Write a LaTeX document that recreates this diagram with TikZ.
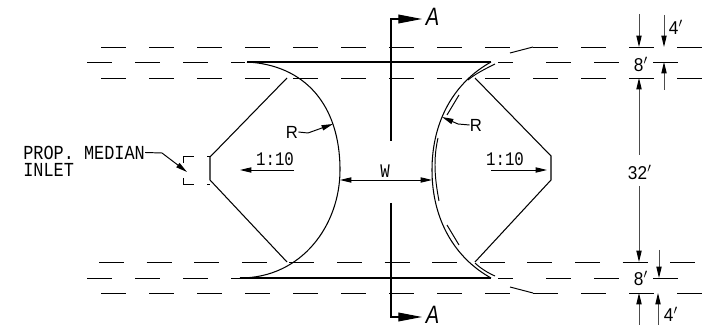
\documentclass[tikz,border=0pt]{standalone}
\usepackage{fontspec}
\usepackage{graphicx}
\setmainfont{Liberation Mono}
\newfontfamily\lblsans{Liberation Sans}[ItalicFont=* Italic]
\newcommand{\tallmono}[1]{\scalebox{1}[1.18]{#1}}
\newcommand{\narrowmono}[1]{\scalebox{0.78}[0.95]{\fontsize{11.5}{12}\selectfont #1}}
\newcommand{\dimtext}[1]{\scalebox{1}[1.08]{\fontsize{9.8}{10}\selectfont\lblsans #1}}
\newcommand{\radtext}[1]{\scalebox{0.95}[1]{\fontsize{10}{10}\selectfont\lblsans #1}}
\newcommand{\cuttext}[1]{\scalebox{0.88}[1.1]{\fontsize{13}{14}\selectfont\lblsans\itshape #1}}
\usetikzlibrary{arrows.meta}
\tikzset{
	roadline/.style={line width=0.55pt},
	solidline/.style={line width=0.6pt},
	dimline/.style={line width=0.55pt,black!70,-{Triangle[length=6.5pt,width=3pt,black]}},
	leaderline/.style={line width=0.55pt,-{Triangle[length=6.5pt,width=3pt]}},
	cutline/.style={line width=0.65pt,-{Triangle[length=13.5pt,width=5pt]}},
	lbl/.style={inner sep=0pt,font=\fontsize{9.6}{10}\selectfont}
}

\begin{document}
\begin{tikzpicture}[x=0.02cm,y=-0.02cm]
	%%%%% START %%%%%
	\def\rowa{47}
	\def\rowb{62}
	\def\rowc{78}
	\def\rowd{262}
	\def\rowe{278}
	\def\rowf{293}
	\def\xcut{391}

	\useasboundingbox (0,0) rectangle (710,327);

	% dashed road lines
	\foreach \x in {101,149,...,677} {
		\draw[roadline] (\x,\rowa) -- (\x+25,\rowa);
		\draw[roadline] (\x,\rowc) -- (\x+25,\rowc);
		\draw[roadline] (\x,\rowf) -- (\x+25,\rowf);
	}
	\foreach \x in {99,146.6,...,675} {
		\draw[roadline] (\x,\rowd) -- (\x+25,\rowd);
	}
	\foreach \y in {\rowb,\rowe} {
		\foreach \x in {87,135,183,546,594,653} {
			\draw[roadline] (\x,\y) -- (\x+24.5,\y);
		}
		\draw[roadline] (231,\y) -- (245,\y);
		\draw[roadline] (498,\y) -- (513,\y);
	}

	% edge of pavement
	\draw[solidline] (247,\rowb) -- (491,\rowb);
	\draw[solidline] (240,\rowe) -- (491,\rowe);

	% left basin
	\draw[solidline] (247,\rowb) .. controls (305,65) and (340,105) .. (340,170)
		.. controls (340,225) and (302,278) .. (240,\rowe);
	\draw[solidline] (287,\rowc) -- (210,157) -- (210,180) -- (287,\rowd);

	% inlet
	\draw[roadline] (183,163) -- (183,156) -- (194,156);
	\draw[roadline] (183,178) -- (183,184) -- (194,184);
	\draw[roadline] (207,156) -- (210,156);
	\draw[roadline] (207,184) -- (210,184);

	% right basin
	\draw[solidline] (491,\rowb) .. controls (455,82) and (432,120) .. (432,170)
		.. controls (432,220) and (455,258) .. (491,\rowe);
	\draw[solidline] (475,\rowc) -- (551,156) -- (551,180) -- (475,\rowd);
	\draw[roadline] (495,64) .. controls (485,69) and (475,74) .. (468,80);
	\draw[roadline] (459,95) -- (447,115);
	\draw[roadline] (438,138) .. controls (436,147) and (435,155) .. (435,165)
		.. controls (435,178) and (437,190) .. (439,201);
	\draw[roadline] (447,225) -- (459,245);
	\draw[roadline] (475,263) .. controls (480,268) and (488,273) .. (495,276);
	\draw[roadline] (510,53) -- (533,\rowa);
	\draw[roadline] (510,287) -- (533,\rowf);

	% section line
	\coordinate (cuttop) at (\xcut,141);
	\coordinate (cutbot) at (\xcut,203);
	\coordinate (cuttoptip) at (422,19);
	\coordinate (cutbottip) at (422,317);
	\node[lbl] (atop) at (432.5,17) {\cuttext{A}};
	\node[lbl] (abot) at (432.5,315) {\cuttext{A}};
	\draw[cutline] (cuttop) -- (\xcut,19) -- (cuttoptip);
	\draw[cutline] (cutbot) -- (\xcut,317) -- (cutbottip);

	% slopes and labels
	\node[lbl,anchor=west] (medianlbl) at (23,152.5) {\tallmono{PROP. MEDIAN}};
	\node[lbl,anchor=west] (inletlbl) at (23,170) {\tallmono{INLET}};
	\coordinate (inlettip) at (187,172);
	\draw[leaderline] (medianlbl.east) -- (162,153) -- (inlettip);

	\node[lbl] (slopel) at (275,159) {\narrowmono{1:10}};
	\node[lbl] (sloper) at (505,159) {\narrowmono{1:10}};
	\draw[leaderline] (294,170) -- (240,170);
	\draw[leaderline] (491,170) -- (547,170);

	\node[lbl] (radl) at (292,132) {\radtext{R}};
	\node[lbl] (radr) at (476,125) {\radtext{R}};
	\coordinate (radltip) at (333,124);
	\coordinate (radrtip) at (442,117);
	\draw[leaderline] (radl.east) -- (308,133) -- (radltip);
	\draw[leaderline] (radr.west) -- (458,124) -- (radrtip);

	\node[lbl] (wlbl) at (385,171) {\narrowmono{W}};
	\coordinate (wleft) at (340,180);
	\coordinate (wright) at (432,180);
	\draw[leaderline,{Triangle[length=6.5pt,width=3pt]}-{Triangle[length=6.5pt,width=3pt]}] (wleft) -- (wright);

	% dimensions
	\node[lbl] (foura) at (676,27) {\dimtext{4$'$}};
	\node[lbl] (eighta) at (641,64) {\dimtext{8$'$}};
	\node[lbl] (thirtytwo) at (640,172) {\dimtext{32$'$}};
	\node[lbl] (eightb) at (641,278) {\dimtext{8$'$}};
	\node[lbl] (fourb) at (671,314) {\dimtext{4$'$}};

	\draw[dimline] (639,14) -- (639,\rowa);
	\draw[dimline] (664,15) -- (664,\rowa);
	\draw[dimline] (664,90) -- (664,\rowb);
	\draw[dimline] (639,155) -- (639,\rowc);
	\draw[dimline] (639,186) -- (639,\rowd);
	\draw[dimline] (659,250) -- (659,\rowe);
	\draw[dimline] (639,325) -- (639,\rowf);
	\draw[dimline] (658,325) -- (658,\rowf);
	%%%%% END %%%%%
\end{tikzpicture}
\end{document}
